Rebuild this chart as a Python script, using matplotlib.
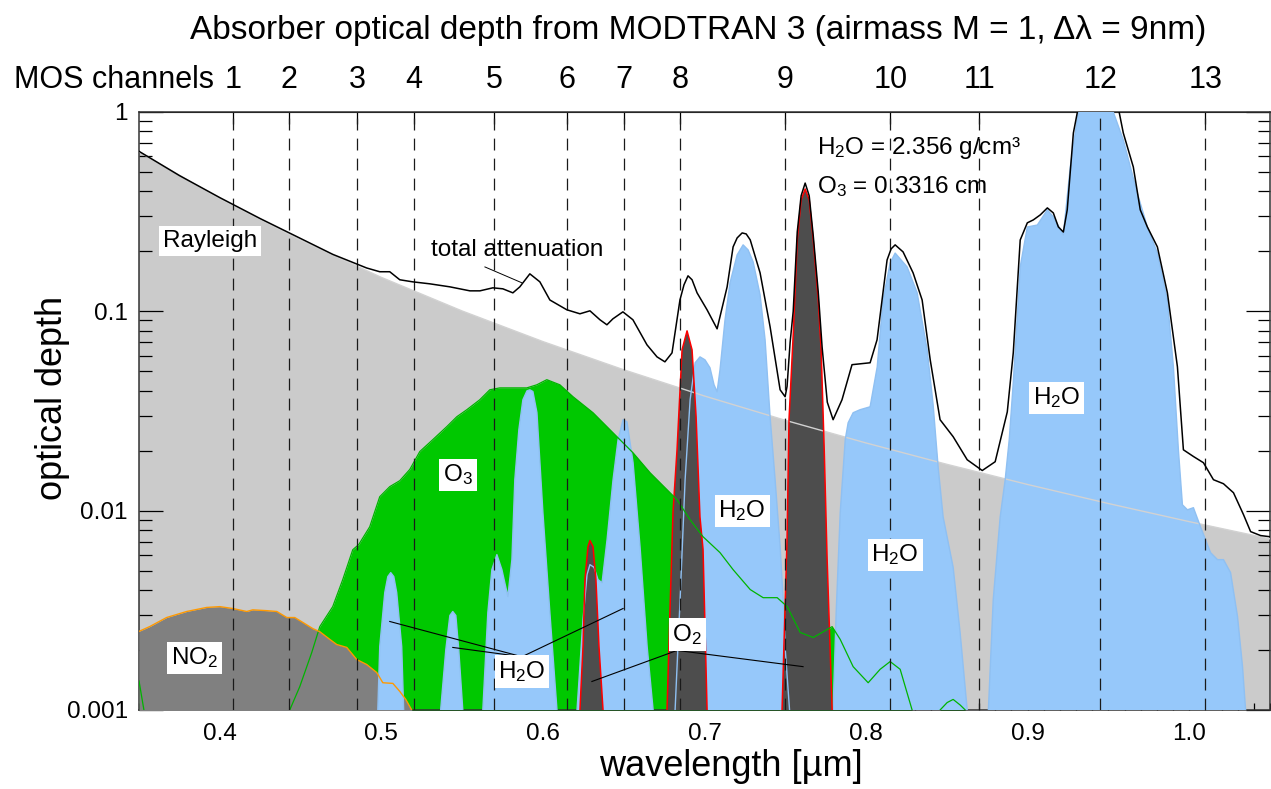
import matplotlib.pyplot as plt
from matplotlib.ticker import FixedLocator, FixedFormatter, LogLocator, MultipleLocator, NullFormatter, FormatStrFormatter

plt.rcParams['font.family'] = ['Liberation Sans', 'DejaVu Sans']
plt.rcParams['mathtext.default'] = 'regular'

# MOS channel centres (um)
chan_wl = [0.408, 0.443, 0.485, 0.520, 0.570, 0.615, 0.650, 0.685, 0.750, 0.815, 0.870, 0.945, 1.010]
chan_num = [str(i) for i in range(1, 14)]

# Rayleigh optical depth
ray_wl = [0.35, 0.40, 0.45, 0.50, 0.55, 0.60, 0.65, 0.70, 0.75, 0.80, 0.85, 0.90, 0.95, 1.00, 1.05]
ray_tau = [0.632, 0.367, 0.2273, 0.148, 0.1004, 0.0705, 0.0509, 0.0376, 0.0284, 0.02186,
           0.01708, 0.01353, 0.01086, 0.00881, 0.00722]

# total attenuation
tot_wl = [0.350, 0.375, 0.400, 0.425, 0.450, 0.470, 0.4909, 0.4990, 0.5052, 0.5114, 0.5194, 0.5300,
          0.5424, 0.5548, 0.5610, 0.5690, 0.5752, 0.5814, 0.5857, 0.5919, 0.5981, 0.6043, 0.6148,
          0.6229, 0.6291, 0.6353, 0.6396, 0.6433, 0.6495, 0.6557, 0.6644, 0.6706, 0.6755, 0.6799,
          0.6848, 0.6873, 0.6898, 0.6923, 0.6954, 0.7016, 0.7078, 0.7140, 0.7177, 0.7202, 0.7233,
          0.7258, 0.7283, 0.7344, 0.7406,
          0.7468, 0.7499, 0.7511, 0.7530, 0.7549, 0.7574, 0.7598, 0.7623, 0.7648, 0.7673, 0.7704,
          0.7728, 0.7760, 0.7796, 0.7851, 0.7913, 0.8025, 0.8068, 0.8130, 0.8155, 0.8180, 0.8229,
          0.8291, 0.8347,
          0.8397, 0.8458, 0.8539, 0.8626, 0.8719, 0.8799, 0.8874, 0.8911, 0.8954, 0.8998, 0.9035,
          0.9078, 0.9122, 0.9159, 0.9190, 0.9221, 0.9245, 0.9283, 0.9313, 0.938, 0.946, 0.9561,
          0.9592, 0.9654, 0.9697, 0.9741, 0.9803, 0.9865, 0.9927, 0.9964, 1.0026, 1.0088, 1.0150,
          1.0212, 1.0274, 1.0336, 1.0380, 1.0442, 1.0500]
tot_tau = [0.635, 0.48, 0.372, 0.292, 0.232, 0.193, 0.165, 0.158, 0.158, 0.144, 0.1406, 0.1374,
           0.1327, 0.1267, 0.1267, 0.1312, 0.1297, 0.1238, 0.1327, 0.1542, 0.1406, 0.114, 0.1018,
           0.0972, 0.1006, 0.0907, 0.0856, 0.0917, 0.0994, 0.0907, 0.0679, 0.0591, 0.0558, 0.0619,
           0.114, 0.1358, 0.1507, 0.144, 0.1238, 0.1017, 0.0817, 0.1327, 0.2105, 0.2335, 0.2474,
           0.2445, 0.2283, 0.156, 0.0836,
           0.0404, 0.0373, 0.042, 0.07, 0.10, 0.25, 0.38, 0.44, 0.38, 0.24, 0.125,
           0.066, 0.035, 0.0286, 0.036, 0.054, 0.0552, 0.072, 0.181, 0.2057, 0.2155, 0.1987,
           0.156, 0.114,
           0.0571, 0.0286, 0.0235, 0.018, 0.0159, 0.0176, 0.0313, 0.0619, 0.228, 0.278, 0.2875,
           0.3046, 0.3303, 0.3116, 0.2652, 0.25, 0.3228, 0.785, 1.05, 1.6, 1.6, 1.05,
           0.785, 0.53, 0.323, 0.265, 0.2105, 0.1238, 0.0527, 0.0202, 0.0187, 0.0174, 0.0143,
           0.01365, 0.0123, 0.00955, 0.00785, 0.0075, 0.0074]

# water vapour
h2o_wl = [0.350, 0.4960, 0.4978, 0.4990, 0.5021, 0.5040, 0.5058, 0.5077, 0.5095, 0.5126, 0.5138, 0.5155,
          0.5350, 0.5367, 0.5399, 0.5424, 0.5442, 0.5461, 0.5479, 0.5504, 0.5520,
          0.5610, 0.5628, 0.5659, 0.5684, 0.5715, 0.5746, 0.5783, 0.5808, 0.5826, 0.5851, 0.5876,
          0.5901, 0.5919, 0.5938, 0.5963, 0.6000, 0.6043, 0.6087, 0.6105,
          0.6195, 0.6211, 0.6248, 0.6273, 0.6291, 0.6316, 0.6341, 0.6366, 0.6397, 0.6434, 0.6465,
          0.6496, 0.6520, 0.6558, 0.6601, 0.6645, 0.6682, 0.6700,
          0.6800, 0.6818, 0.6849, 0.6880, 0.6911, 0.6942, 0.6972, 0.7003, 0.7034, 0.7059, 0.7078,
          0.7096, 0.7127, 0.7158, 0.7202, 0.7239, 0.7270, 0.7301, 0.7344, 0.7375, 0.7406, 0.7437,
          0.7468, 0.7486, 0.7500, 0.7540, 0.7600, 0.7700, 0.7760, 0.7796, 0.7815, 0.7840, 0.7871,
          0.7889, 0.7920,
          0.7963, 0.8025, 0.8069, 0.8105, 0.8149, 0.8180, 0.8254, 0.8316, 0.8378, 0.8415, 0.8446,
          0.8477, 0.8539, 0.8582, 0.8626, 0.8645,
          0.8740, 0.8757, 0.8787, 0.8830, 0.8861, 0.8886, 0.8911, 0.8954, 0.8998, 0.9060, 0.9122,
          0.9159, 0.9221, 0.9264, 0.9313, 0.9380, 0.9460, 0.9530, 0.9592, 0.9678, 0.9741, 0.9803,
          0.9865, 0.9902, 0.9933, 0.9958, 0.9989, 1.0026, 1.0070, 1.0132, 1.0175, 1.0212, 1.0256,
          1.0299, 1.0330, 1.0349, 1.0365, 1.050]
h2o_tau = [1e-5, 1e-5, 0.001, 0.00208, 0.00388, 0.00467, 0.00489, 0.00467, 0.00388, 0.00208, 0.001, 1e-5,
           1e-5, 0.001, 0.00201, 0.00298, 0.00312, 0.00298, 0.00201, 0.001, 1e-5,
           1e-5, 0.001, 0.00308, 0.00506, 0.00602, 0.00506, 0.00371, 0.00568, 0.0143, 0.0255, 0.036,
           0.0399, 0.0404, 0.0396, 0.031, 0.00977, 0.00308, 0.001, 1e-5,
           1e-5, 0.001, 0.00284, 0.00478, 0.00536, 0.0052, 0.00451, 0.00435, 0.00716, 0.0143, 0.0227,
           0.0286, 0.0279, 0.0174, 0.0066, 0.00208, 0.001, 1e-5,
           1e-5, 0.001, 0.0036, 0.0143, 0.036, 0.0552, 0.0591, 0.0571, 0.0521, 0.0428, 0.0395,
           0.0509, 0.0907, 0.139, 0.192, 0.2155, 0.2033, 0.177, 0.121, 0.072, 0.0296, 0.0143,
           0.0066, 0.0037, 0.002, 0.0007, 0.0006, 0.0006, 0.0007, 0.001, 0.0031, 0.0098, 0.0227,
           0.0276, 0.031,
           0.0321, 0.0332, 0.0527, 0.114, 0.175, 0.196, 0.167, 0.124, 0.0641, 0.034, 0.0166,
           0.0093, 0.0052, 0.00245, 0.001, 1e-5,
           1e-5, 0.001, 0.00358, 0.0093, 0.0143, 0.0227, 0.0438, 0.167, 0.265, 0.271, 0.323,
           0.298, 0.242, 0.53, 1.0, 1.5, 1.5, 1.0, 0.724, 0.393, 0.265, 0.196,
           0.114, 0.0527, 0.0202, 0.0107, 0.0101, 0.01035, 0.0083, 0.00616, 0.00568, 0.00568, 0.00489,
           0.00294, 0.00165, 0.001, 1e-5, 1e-5]

# ozone
o3_wl = [0.350, 0.354, 0.360, 0.400, 0.430, 0.4433, 0.4495, 0.4569, 0.4619, 0.4699, 0.4761, 0.4823,
         0.4860, 0.4928, 0.4990, 0.5052, 0.5114, 0.5176, 0.5238, 0.5318, 0.5405, 0.5467, 0.5529,
         0.5609, 0.5671, 0.5733, 0.5814, 0.5900, 0.5962, 0.6024, 0.6105, 0.6186, 0.6310, 0.6458,
         0.6558, 0.6663, 0.6768, 0.6830, 0.6911, 0.6991, 0.7096, 0.7177, 0.7283, 0.7363, 0.7450,
         0.7512, 0.7592, 0.7673, 0.7728, 0.7790, 0.7840, 0.7920, 0.8013, 0.8087, 0.8149, 0.8211,
         0.8285, 0.835, 0.8458, 0.8502, 0.8539, 0.8582, 0.8614, 0.870, 1.050]
o3_tau = [0.0014, 0.0009, 0.0005, 0.0002, 0.0004, 0.001, 0.00131, 0.00194, 0.00262, 0.0033, 0.00451,
          0.00637, 0.00676, 0.0083, 0.01175, 0.0132, 0.01414, 0.0161, 0.0198, 0.0227, 0.0264, 0.0296,
          0.0321, 0.036, 0.0404, 0.0413, 0.0413, 0.0413, 0.0428, 0.0454, 0.0428, 0.0373, 0.031,
          0.0235, 0.0195, 0.0155, 0.01274, 0.01135, 0.009, 0.0074, 0.00616, 0.00506, 0.00402,
          0.00366, 0.00366, 0.0033, 0.00245, 0.00231, 0.00245, 0.00262, 0.00226, 0.00165, 0.00137,
          0.0016, 0.00175, 0.0016, 0.001, 0.0007, 0.001, 0.00109, 0.00113, 0.00106, 0.001, 0.0006,
          0.0002]

# nitrogen dioxide
no2_wl = [0.350, 0.3566, 0.3671, 0.3795, 0.3919, 0.4000, 0.4080, 0.4167, 0.4204, 0.4291, 0.4353,
          0.4415, 0.4464, 0.4514, 0.4576, 0.4619, 0.4681, 0.4724, 0.4786, 0.4848, 0.4910, 0.4972,
          0.5009, 0.5071, 0.5114, 0.5151, 0.5188, 0.530, 0.600, 1.050]
no2_tau = [0.00248, 0.00262, 0.00291, 0.00312, 0.00327, 0.0033, 0.00323, 0.00312, 0.00318, 0.00315,
           0.00312, 0.00291, 0.00291, 0.00275, 0.00256, 0.00247, 0.00226, 0.00213, 0.00206, 0.00179,
           0.00169, 0.00154, 0.00137, 0.00136, 0.00124, 0.00113, 0.001, 0.0006, 0.0002, 0.0001]

# oxygen
o2_wl = [0.350, 0.621, 0.6229, 0.6248, 0.6260, 0.6279, 0.6291, 0.6310, 0.6328, 0.6347, 0.6372, 0.639,
         0.675, 0.6768, 0.6786, 0.6805, 0.6830, 0.6861, 0.6892, 0.6923, 0.6948, 0.6972, 0.6991,
         0.7016, 0.7035,
         0.746, 0.7480, 0.7511, 0.7523, 0.7549, 0.7574, 0.7598, 0.7623, 0.7648, 0.7673, 0.7704,
         0.7722, 0.7741, 0.7759, 0.7790, 0.781, 1.050]
o2_tau = [1e-5, 1e-5, 0.001, 0.00208, 0.00451, 0.0066, 0.00708, 0.0066, 0.00451, 0.00208, 0.001, 1e-5,
          1e-5, 0.001, 0.0031, 0.0098, 0.0202, 0.0641, 0.0798, 0.0641, 0.0296, 0.0093, 0.0064,
          0.001, 1e-5,
          1e-5, 0.001, 0.0072, 0.0286, 0.0762, 0.228, 0.362, 0.411, 0.362, 0.228, 0.114,
          0.064, 0.0202, 0.0057, 0.001, 1e-5, 1e-5]

FLOOR = 1e-5
fig = plt.figure(figsize=(12.71, 7.89), dpi=100)
ax = fig.add_axes([139/1271, 79/789, 1131/1271, 598/789])
ax.set_yscale('log')
ax.set_xlim(0.35, 1.05)
ax.set_ylim(0.001, 1)

ax.fill_between(ray_wl, FLOOR, ray_tau, color='#cbcbcb', lw=0, zorder=1)
ax.fill_between(o3_wl, FLOOR, o3_tau, color='#00c800', lw=0, zorder=2)
ax.fill_between(no2_wl, FLOOR, no2_tau, color='#808080', lw=0, zorder=3)
ax.fill_between(h2o_wl, FLOOR, h2o_tau, color='#96c8fa', lw=0, zorder=4)
ax.fill_between(o2_wl, FLOOR, o2_tau, color='#4d4d4d', lw=0, zorder=5)

ax.plot(ray_wl, ray_tau, color='#d2d2d2', lw=1.0, zorder=6)
ax.plot(h2o_wl, h2o_tau, color='#8fc0f2', lw=1.0, zorder=6)
ax.plot(o2_wl, o2_tau, color='red', lw=1.1, zorder=7)
ax.plot(o3_wl, o3_tau, color='#00b400', lw=0.9, zorder=7)
ax.plot(no2_wl, no2_tau, color='#ff9900', lw=1.0, zorder=7)

for wl in chan_wl:
    ax.axvline(wl, color='#1a1a1a', lw=0.9, dashes=(9.5, 6.5), zorder=8)

ax.plot(tot_wl, tot_tau, color='black', lw=1.1, zorder=9)

# ticks
ax.yaxis.set_major_locator(FixedLocator([0.001, 0.01, 0.1, 1]))
ax.yaxis.set_major_formatter(FixedFormatter(['0.001', '0.01', '0.1', '1']))
ax.yaxis.set_minor_locator(LogLocator(base=10, subs=range(2, 10)))
ax.yaxis.set_minor_formatter(NullFormatter())
ax.xaxis.set_major_locator(MultipleLocator(0.1))
ax.xaxis.set_major_formatter(FormatStrFormatter('%.1f'))
ax.xaxis.set_minor_locator(MultipleLocator(0.01))
ax.tick_params(axis='y', which='major', direction='in', length=17, width=0.9, right=True,
               labelsize=17.5, pad=8)
ax.tick_params(axis='y', which='minor', direction='in', length=9, width=0.9, right=True)
ax.tick_params(axis='x', which='major', direction='in', length=8.6, width=0.9, top=False,
               labelsize=17.5, pad=9)
ax.tick_params(axis='x', which='minor', direction='in', length=5, width=0.9, top=False)
for s in ax.spines.values():
    s.set_linewidth(1.1)
    s.set_color('#333333')

sec = ax.secondary_xaxis('top')
sec.set_xticks(chan_wl, labels=chan_num)
sec.tick_params(direction='in', length=8.6, width=0.9, labelsize=22, pad=12.5)

fig.text(214/1271, 1 - 88/789, 'MOS channels', ha='right', va='baseline', fontsize=22)
fig.text(0.549, 1 - 39/789, 'Absorber optical depth from MODTRAN 3 (airmass M = 1, Δλ = 9nm)',
         ha='center', va='baseline', fontsize=24)
fig.text(731/1271, 1 - 776/789, 'wavelength [µm]', ha='center', va='baseline', fontsize=26)
fig.text(62/1271, 1 - 398/789, 'optical depth', ha='center', va='baseline', rotation=90,
         rotation_mode='anchor', fontsize=26)

box = dict(boxstyle='square,pad=0.15', fc='white', ec='none')
lab = dict(ha='center', va='center', fontsize=17.5, zorder=12, bbox=box)
ax.text(0.3938, 0.2256, 'Rayleigh', **lab)
ax.text(0.5474, 0.01515, r'O$_3$', **lab)
ax.text(0.7233, 0.0100, r'H$_2$O', **lab)
ax.text(0.8180, 0.00602, r'H$_2$O', **lab)
ax.text(0.9177, 0.0368, r'H$_2$O', **lab)
ax.text(0.3845, 0.00183, r'NO$_2$', **lab)
ax.text(0.5870, 0.00156, r'H$_2$O', **lab)
ax.text(0.6892, 0.00239, r'O$_2$', **lab)

ax.text(0.5839, 0.2033, 'total attenuation', ha='center', va='center', fontsize=17.5, zorder=12)
ax.plot([0.5641, 0.5870], [0.167, 0.139], color='black', lw=0.7, zorder=11)
ax.text(0.7697, 0.66, r'H$_2$O = 2.356 g/cm³', ha='left', va='center', fontsize=17.5, zorder=12)
ax.text(0.7697, 0.421, r'O$_3$ = 0.3316 cm', ha='left', va='center', fontsize=17.5, zorder=12)

# pointer lines
ax.plot([0.5052, 0.5870, 0.6496], [0.00278, 0.00185, 0.00323], color='black', lw=0.8, zorder=11)
ax.plot([0.5442, 0.5870], [0.00206, 0.00185], color='black', lw=0.8, zorder=11)
ax.plot([0.6303, 0.6830, 0.7610], [0.00139, 0.00199, 0.00165], color='black', lw=0.8, zorder=11)

fig.savefig('out.png', dpi=100)
